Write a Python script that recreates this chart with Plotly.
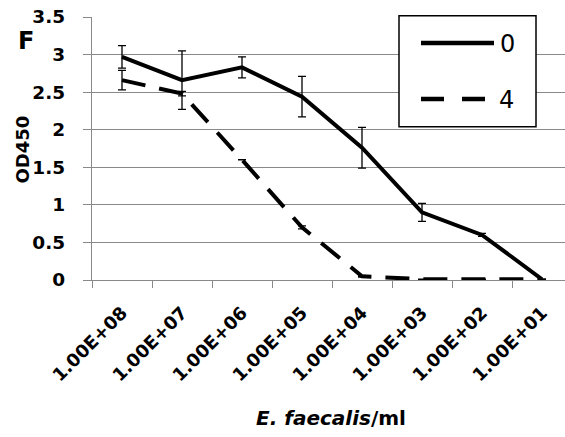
import plotly.graph_objects as go

categories = ["1.00E+08", "1.00E+07", "1.00E+06", "1.00E+05",
              "1.00E+04", "1.00E+03", "1.00E+02", "1.00E+01"]
series_0 = [2.97, 2.66, 2.83, 2.44, 1.76, 0.90, 0.60, 0.01]
err_0 = [0.15, 0.39, 0.14, 0.27, 0.27, 0.12, 0.02, 0.0]
series_4 = [2.66, 2.48, 1.60, 0.70, 0.05, 0.01, 0.01, 0.01]
err_4 = [0.13, 0.03, 0.0, 0.02, 0.01, 0.0, 0.0, 0.0]
y_ticks = [0, 0.5, 1, 1.5, 2, 2.5, 3, 3.5]
y_tick_text = ["0", "0.5", "1", "1.5", "2", "2.5", "3", "3.5"]

W, H = 565, 437
L, R, T, B = 92, 0, 17, 157
PW, PH = W - L - R, H - T - B
FONT = "DejaVu Sans"
GRID = "#898989"


def px(p):
    return (p - L) / PW


def py(p):
    return (H - B - p) / PH


fig = go.Figure()
fig.add_trace(go.Scatter(
    x=categories, y=series_0, mode="lines", name="0",
    line=dict(color="black", width=4),
    error_y=dict(type="data", array=err_0, visible=True, color="black",
                 thickness=1.3, width=4),
    showlegend=False))
fig.add_trace(go.Scatter(
    x=categories, y=series_4, mode="lines", name="4",
    line=dict(color="black", width=4, dash="24px,14px"),
    error_y=dict(type="data", array=err_4, visible=True, color="black",
                 thickness=1.3, width=4),
    showlegend=False))

fig.update_layout(
    width=W, height=H,
    margin=dict(l=L, r=R, t=T, b=B, pad=0),
    paper_bgcolor="white", plot_bgcolor="white",
    xaxis=dict(type="category", range=[-0.5, -0.5 + PW / 60.0],
               tickson="boundaries", ticks="outside", ticklen=7,
               tickcolor=GRID, tickwidth=1.3, tickangle=-45,
               ticklabelstandoff=14,
               tickfont=dict(family=FONT, size=18, color="black", weight="bold"),
               showgrid=False, showline=True, linecolor=GRID, linewidth=1.3,
               zeroline=False, fixedrange=True),
    yaxis=dict(range=[0, 3.5], tickvals=y_ticks, ticktext=y_tick_text,
               ticks="outside", ticklen=8, tickcolor=GRID, tickwidth=1.3,
               ticklabelstandoff=14,
               tickfont=dict(family=FONT, size=18.5, color="black", weight="bold"),
               showgrid=True, gridcolor=GRID, gridwidth=1.3,
               showline=True, linecolor=GRID, linewidth=1.3,
               zeroline=False, fixedrange=True),
)

# Legend box (custom, to match the long line samples)
fig.add_shape(type="rect", xref="paper", yref="paper",
              x0=px(399), x1=px(536), y0=py(126.7), y1=py(15.7),
              line=dict(color="black", width=1.5), fillcolor="white",
              layer="above")
fig.add_shape(type="line", xref="paper", yref="paper",
              x0=px(421), x1=px(494), y0=py(43), y1=py(43),
              line=dict(color="black", width=4.5), layer="above")
fig.add_shape(type="line", xref="paper", yref="paper",
              x0=px(421), x1=px(485), y0=py(99), y1=py(99),
              line=dict(color="black", width=4.5, dash="23px,18px"),
              layer="above")
fig.add_annotation(xref="paper", yref="paper", x=px(507), y=py(44),
                   text="0", showarrow=False, xanchor="center", yanchor="middle",
                   font=dict(family=FONT, size=24, color="black"))
fig.add_annotation(xref="paper", yref="paper", x=px(506), y=py(100),
                   text="4", showarrow=False, xanchor="center", yanchor="middle",
                   font=dict(family=FONT, size=24, color="black"))

# Axis titles and panel letter
fig.add_annotation(xref="paper", yref="paper", x=px(331), y=py(418),
                   text="<i>E. faecalis</i>/ml", showarrow=False,
                   xanchor="center", yanchor="middle",
                   font=dict(family=FONT, size=20, color="black", weight="bold"))
fig.add_annotation(xref="paper", yref="paper", x=px(21.5), y=py(150),
                   text="OD450", showarrow=False, textangle=-90,
                   xanchor="center", yanchor="middle",
                   font=dict(family=FONT, size=18, color="black", weight="bold"))
fig.add_annotation(xref="paper", yref="paper", x=px(25.5), y=py(41),
                   text="F", showarrow=False,
                   xanchor="center", yanchor="middle",
                   font=dict(family=FONT, size=24, color="black", weight="bold"))

fig.write_html("out.html")
